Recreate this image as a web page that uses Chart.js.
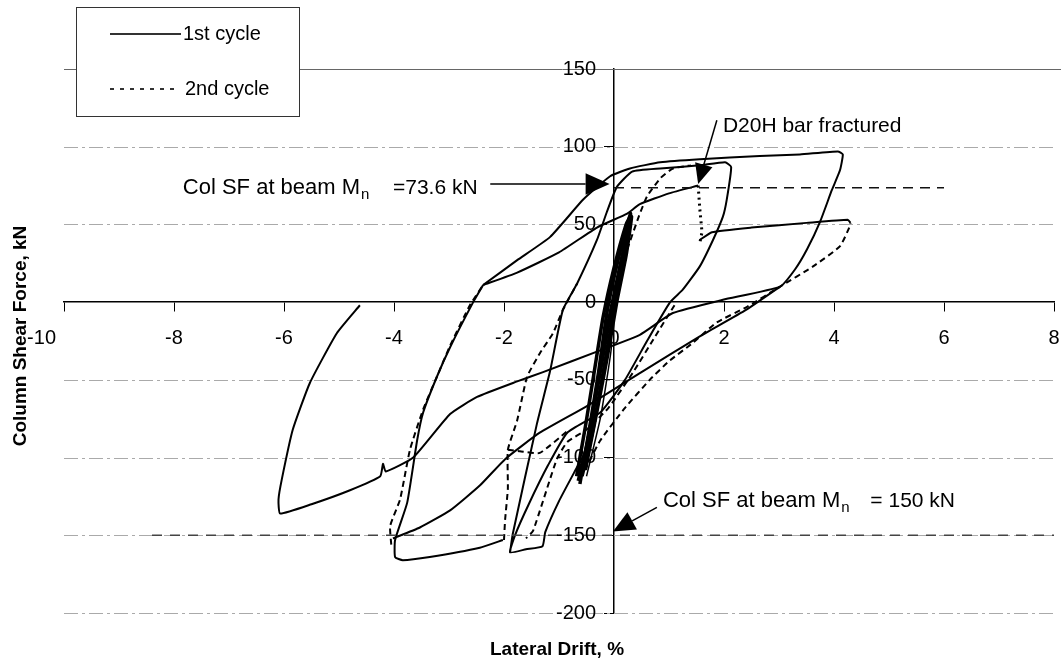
<!DOCTYPE html>
<html>
<head>
<meta charset="utf-8">
<title>Column Shear Force vs Lateral Drift</title>
<script src="https://cdn.jsdelivr.net/npm/chart.js@4.4.1/dist/chart.umd.min.js"></script>
<style>
  html, body { margin: 0; padding: 0; background: #fff; }
  #wrap { position: relative; width: 1061px; height: 667px; }
</style>
</head>
<body>
<div id="wrap"><canvas id="chart"></canvas></div>
<script>
// axis ticks
var xTicks = [-10, -8, -6, -4, -2, 0, 2, 4, 6, 8];
var yTicks = [-200, -150, -100, -50, 0, 50, 100, 150];

// 1st cycle (solid) - drift %, shear kN
var cycle1Envelope = [[-2.38, 11], [-1.76, 27], [-1.16, 42], [-0.56, 66], [-0.07, 81], [0.29, 86], [0.84, 90], [1.56, 92], [2.65, 94], [3.38, 95], [4.07, 97], [4.16, 95], [4.11, 85], [3.96, 72], [3.75, 52], [3.51, 34], [3.29, 21], [3.02, 10], [1.98, 1.5], [1.07, -7], [0.47, -21], [-0.25, -31], [-1.29, -45], [-1.76, -51], [-2.49, -61], [-2.98, -72], [-3.65, -100], [-4.15, -109], [-4.2, -104], [-4.25, -112], [-4.8, -121], [-5.5, -130], [-6.07, -136], [-6.1, -127], [-6.04, -114], [-5.84, -82], [-5.53, -52], [-5.04, -20], [-4.62, -2]];
var cycle1Minus4 = [[-2.38, 11], [-2.56, 0], [-2.98, -29], [-3.22, -48], [-3.47, -71], [-3.58, -89], [-3.76, -129], [-3.98, -153], [-3.98, -164], [-3.84, -166], [-3.35, -164], [-2.44, -158], [-2.02, -153]];
var cycle1Reload = [[-4.02, -152], [-3.53, -145], [-2.98, -134], [-2.44, -118], [-1.98, -101], [-1.35, -84], [-0.5, -67], [0.5, -45], [1.56, -22], [2.4, -5], [3.02, 10]];
var cycle1Kink = [[-2.38, 11], [-1.76, 19], [-1.0, 32], [-0.31, 48], [0.24, 57], [0.47, 63], [1.0, 70], [1.53, 75]];
var cycle1Loop2 = [[-1.89, -161], [-1.84, -149], [-1.4, -78], [-1.16, -44], [-0.93, -5], [-0.67, 12], [-0.31, 40], [-0.13, 58], [0.05, 74], [0.33, 84], [0.84, 86], [1.56, 88], [2.02, 90], [2.13, 87], [2.05, 66], [1.98, 55], [1.8, 40], [1.56, 23], [1.25, 8], [1.02, 0], [0.6, -25], [0.2, -50], [-0.25, -71], [-0.85, -84], [-1.2, -105], [-1.55, -130], [-1.8, -150], [-1.89, -161], [-1.6, -159], [-1.3, -157], [-1.25, -148], [-1.0, -128], [-0.7, -108], [-0.5, -95]];
var cycle1BandA = [[-0.62, -117], [-0.45, -82], [-0.28, -45], [-0.12, -5], [0.08, 28], [0.3, 57], [0.27, 45], [0.12, 15], [-0.05, -15], [-0.22, -50], [-0.4, -85], [-0.58, -112]];
var cycle1BandB = [[-0.58, -110], [-0.38, -70], [-0.2, -30], [0.0, 5], [0.18, 35], [0.32, 55], [0.22, 30], [0.05, 0], [-0.12, -35], [-0.32, -72], [-0.52, -108]];
var cycle1BandC = [[0.3, 57], [0.16, 21], [-0.04, -5], [-0.05, -30], [-0.25, -75], [-0.5, -112]];
var cycle1BandD = [[-0.68, -112], [-0.52, -80], [-0.36, -45], [-0.2, -10], [0.0, 22], [0.22, 50], [0.3, 55], [0.1, 20], [-0.1, -15], [-0.3, -55], [-0.48, -90], [-0.65, -115]];
var cycle1PostFracture = [[1.56, 40], [1.78, 45], [2.5, 48], [3.5, 51], [4.25, 53], [4.3, 51]];

// 2nd cycle (dashed)
var cycle2Minus4 = [[-4.05, -156], [-4.07, -144], [-3.89, -127], [-3.71, -95], [-3.47, -69], [-3.22, -48], [-2.98, -28], [-2.62, -2], [-2.38, 11]];
var cycle2Minus2 = [[-2.0, -153], [-1.98, -140], [-1.93, -120], [-1.93, -95], [-1.76, -76], [-1.58, -48], [-1.35, -33], [-1.11, -20], [-0.93, -5], [-0.67, 12]];
var cycle2Step = [[-1.93, -95], [-1.71, -96], [-1.35, -97], [-0.85, -83]];
var cycle2Plus2 = [[0.24, 34], [0.45, 55], [0.6, 68], [0.85, 80], [1.07, 86], [1.4, 88]];
var cycle2Unload2 = [[1.1, -2], [0.75, -22], [0.35, -45], [-0.1, -68], [-0.5, -82], [-0.85, -90], [-1.04, -101], [-1.47, -147], [-1.6, -152]];
var cycle2Plus4 = [[-0.53, -108], [-0.25, -89], [0.2, -68], [0.65, -50], [1.0, -38], [1.44, -26], [1.87, -13], [2.42, -3], [3.02, 10], [3.62, 23], [4.11, 36], [4.29, 49], [4.3, 51]];
var fractureDrop = [[1.53, 75], [1.56, 60], [1.6, 45], [1.56, 38]];

// reference lines: column shear at beam Mn
var refMn73 = [[0, 73.6], [6, 73.6]];
var refMn150 = [[-8.4, -150], [8, -150]];

var FONT = 'Arial, "Liberation Sans", sans-serif';

function pts(arr) {
  return arr.map(function (p) { return { x: p[0], y: p[1] }; });
}

function line(arr, opts) {
  var ds = {
    data: pts(arr),
    showLine: true,
    pointRadius: 0,
    borderColor: '#000',
    borderWidth: 2,
    tension: 0.15,
    fill: false,
  };
  for (var k in opts) ds[k] = opts[k];
  return ds;
}

var datasets = [
  line(refMn150, { borderColor: '#444', borderWidth: 1.5, borderDash: [10, 8], tension: 0 }),
  line(refMn73, { borderColor: '#111', borderWidth: 1.5, borderDash: [10, 7], tension: 0 }),
  line(cycle1Envelope, {}),
  line(cycle1Minus4, {}),
  line(cycle1Reload, {}),
  line(cycle1Kink, {}),
  line(cycle1Loop2, {}),
  line(cycle1BandA, { borderWidth: 3.5 }),
  line(cycle1BandB, { borderWidth: 3.5 }),
  line(cycle1BandD, { borderWidth: 3.5 }),
  line(cycle1BandC, { borderWidth: 1.5 }),
  line(cycle1PostFracture, {}),
  line(cycle2Minus4, { borderDash: [6, 4] }),
  line(cycle2Minus2, { borderDash: [6, 4] }),
  line(cycle2Step, { borderDash: [6, 4] }),
  line(cycle2Plus2, { borderDash: [6, 4] }),
  line(cycle2Unload2, { borderDash: [6, 4] }),
  line(cycle2Plus4, { borderDash: [6, 4] }),
  line(fractureDrop, { borderWidth: 3, borderDash: [2, 4], tension: 0 }),
];

function arrow(ctx, x1, y1, x2, y2, head) {
  var a = Math.atan2(y2 - y1, x2 - x1);
  var bx = x2 - head * Math.cos(a), by = y2 - head * Math.sin(a);
  ctx.beginPath();
  ctx.moveTo(x1, y1);
  ctx.lineTo(bx, by);
  ctx.stroke();
  ctx.beginPath();
  ctx.moveTo(x2, y2);
  ctx.lineTo(bx + head * 0.45 * Math.sin(a), by - head * 0.45 * Math.cos(a));
  ctx.lineTo(bx - head * 0.45 * Math.sin(a), by + head * 0.45 * Math.cos(a));
  ctx.closePath();
  ctx.fill();
}

// "Col SF at beam M" + subscript n + tail, tail right-aligned at xEnd
function mnText(ctx, x, xEnd, y, tail) {
  ctx.textAlign = 'left';
  ctx.font = '22px ' + FONT;
  var head = 'Col SF at beam M';
  ctx.fillText(head, x, y);
  var w = ctx.measureText(head).width;
  ctx.font = '15px ' + FONT;
  ctx.fillText('n', x + w + 1, y + 7);
  ctx.font = '21px ' + FONT;
  ctx.textAlign = 'right';
  ctx.fillText(tail, xEnd, y);
}

var gridPlugin = {
  id: 'gridPlugin',
  beforeDatasetsDraw: function (chart) {
    var ctx = chart.ctx, area = chart.chartArea, ys = chart.scales.y;
    ctx.save();
    yTicks.forEach(function (v) {
      if (v === 0) return;
      var py = Math.round(ys.getPixelForValue(v)) + 0.5;
      ctx.beginPath();
      if (v === 150) {
        ctx.strokeStyle = '#666';
        ctx.setLineDash([]);
        ctx.moveTo(area.left, py);
        ctx.lineTo(chart.width, py);
      } else {
        ctx.strokeStyle = '#aaa';
        ctx.setLineDash([14, 4, 3, 4]);
        ctx.moveTo(area.left, py);
        ctx.lineTo(area.right, py);
      }
      ctx.lineWidth = 1;
      ctx.stroke();
    });
    ctx.restore();
  },
};

var notePlugin = {
  id: 'notePlugin',
  afterDraw: function (chart) {
    var ctx = chart.ctx, xs = chart.scales.x, ys = chart.scales.y;
    var X = function (v) { return xs.getPixelForValue(v); };
    var Y = function (v) { return ys.getPixelForValue(v); };
    ctx.save();
    ctx.fillStyle = '#000';
    ctx.strokeStyle = '#000';
    ctx.lineWidth = 1.5;
    ctx.textBaseline = 'middle';

    // tick labels
    ctx.font = '20px ' + FONT;
    xTicks.forEach(function (v, i) {
      ctx.textAlign = i === 0 ? 'right' : 'center';
      ctx.fillText(String(v), i === 0 ? X(v) - 8 : X(v), Y(0) + 36);
    });
    ctx.textAlign = 'right';
    yTicks.forEach(function (v) {
      ctx.fillText(String(v), X(0) - 18, Y(v));
    });

    // annotations
    ctx.textAlign = 'left';
    ctx.font = '21px ' + FONT;
    ctx.fillText('D20H bar fractured', X(1.98), Y(113));
    arrow(ctx, X(1.87), Y(117), X(1.53), Y(76), 20);

    mnText(ctx, X(-7.84), X(-2.48), Y(73.6), '=73.6 kN');
    arrow(ctx, X(-2.25), Y(76), X(-0.08), Y(76), 24);

    mnText(ctx, X(0.89), X(6.2), Y(-128), '= 150 kN');
    arrow(ctx, X(0.78), Y(-132), X(-0.02), Y(-147.5), 22);

    // axis titles
    ctx.font = 'bold 19px ' + FONT;
    ctx.textAlign = 'center';
    ctx.fillText('Lateral Drift, %', 557, 650);
    ctx.save();
    ctx.translate(21, 336);
    ctx.rotate(-Math.PI / 2);
    ctx.fillText('Column Shear Force, kN', 0, 0);
    ctx.restore();

    // legend box
    ctx.fillStyle = '#fff';
    ctx.fillRect(76, 7, 223, 109);
    ctx.strokeStyle = '#333';
    ctx.lineWidth = 1;
    ctx.setLineDash([]);
    ctx.strokeRect(76.5, 7.5, 223, 109);
    ctx.fillStyle = '#000';
    ctx.lineWidth = 2;
    ctx.beginPath();
    ctx.moveTo(110, 34);
    ctx.lineTo(181, 34);
    ctx.stroke();
    ctx.setLineDash([4, 6]);
    ctx.beginPath();
    ctx.moveTo(110, 89);
    ctx.lineTo(174, 89);
    ctx.stroke();
    ctx.setLineDash([]);
    ctx.textAlign = 'left';
    ctx.font = '20px ' + FONT;
    ctx.fillText('1st cycle', 183, 34);
    ctx.fillText('2nd cycle', 185, 89);
    ctx.restore();
  },
};

new Chart(document.getElementById('chart'), {
  type: 'scatter',
  data: { datasets: datasets },
  plugins: [gridPlugin, notePlugin],
  options: {
    responsive: true,
    maintainAspectRatio: false,
    animation: false,
    layout: { padding: { left: 64, right: 7, top: 69, bottom: 54 } },
    plugins: { legend: { display: false }, tooltip: { enabled: false } },
    scales: {
      x: {
        type: 'linear',
        min: -10,
        max: 8,
        position: { y: 0 },
        afterBuildTicks: function (scale) {
          scale.ticks = xTicks.map(function (v) { return { value: v }; });
        },
        ticks: { display: false },
        grid: { drawOnChartArea: false, drawTicks: true, tickLength: 9, color: '#000' },
        border: { color: '#000', width: 1.5 },
      },
      y: {
        type: 'linear',
        min: -200,
        max: 150,
        position: { x: 0 },
        afterBuildTicks: function (scale) {
          scale.ticks = yTicks.map(function (v) { return { value: v }; });
        },
        ticks: { display: false },
        grid: { drawOnChartArea: false, drawTicks: true, tickLength: 9, color: '#000' },
        border: { color: '#000', width: 1.5 },
      },
    },
  },
});
</script>
</body>
</html>
